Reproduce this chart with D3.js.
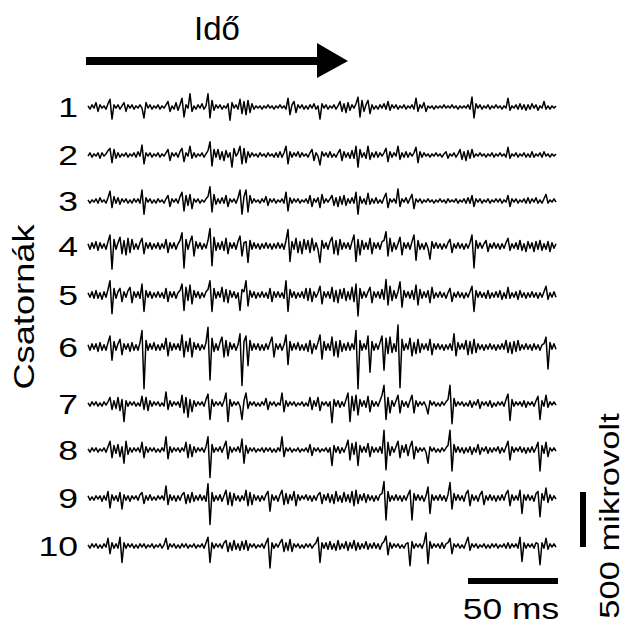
<!DOCTYPE html>
<html><head><meta charset="utf-8">
<script src="https://cdn.jsdelivr.net/npm/d3@7"></script>
<style>html,body{margin:0;padding:0;background:#fff;}svg{display:block;}</style>
</head><body>
<svg id="chart" width="625" height="624"></svg>
<script>
// ---- DATA (values in units of 10 µV, one sample every 50/45 ms) ----
const channelLabels = ["1","2","3","4","5","6","7","8","9","10"];
const timeLabel = "Idő";
const channelAxisLabel = "Csatornák";
const timeScaleLabel = "50 ms";
const voltScaleLabel = "500 mikrovolt";
const timeScaleMs = 50;
const voltScaleUnits = 50; // 500 µV
const sampleMs = 50 / 45;

const ch1 = [1,-2,2,-1,4,-4,2,-1,1,-2, 3,7,-11,2,-1,2,-2,1,4,-4, 2,-1,2,-2,1,-1,2,-1,-10,4, -1,2,-2,1,-1,2,-2,1,-1,2, 5,-4,1,-2,4,-3,2,8,-9,2, -1,12,-4,1,-2,2,-1,3,-2,1, 12,-10,6,-3,2,-1,2,-2,1,-1, 3,-12,4,-1,2,-2,7,-6,5,-7, 6,-5,3,-2,1,-1,1,-2,1,-1, 2,-1,1,-2,1,-1,2,-1,1,-2, 8,-7,2,5,-5,2,-1,2,-2,1, -2,2,-1,3,-2,1,-11,3,-1,2, -2,1,-1,2,-2,1,5,-4,3,-5, 4,-3,2,-1,3,9,-9,6,-4,2, 6,-6,2,-2,1,-2,2,-1,3,-2, 5,-3,2,-1,2,-2,1,-1,2,-2, 1,-1,2,-2,8,-4,2,-1,4,-4, 1,-1,1,-2,1,-1,1,-1,2,-1, 1,-1,2,-1,1,-2,1,-1,1,-1, 2,-2,9,-10,3,-1,2,-2,1,-1, 2,-2,1,-1,2,-1,1,-2,1,-1, 8,-3,1,-1,2,-2,3,-2,2,-3, 2,-2,3,-1,2,-3,1,-1,5,-2, 1,-2,1,-1,1];
const ch2 = [-1,2,-2,1,-1,2,-3,2,-1,1, 4,6,-7,5,-3,2,-2,1,-1,2, -2,1,-1,2,-2,3,-1,9,-8,2, -1,2,-2,1,-1,2,-2,1,-1,2, 5,-5,2,-1,2,-2,3,6,-6,2, -1,8,-3,2,-2,1,-1,2,-2,1, 4,12,-10,5,-2,5,-4,3,-5,4, -2,2,-11,6,-1,2,8,-8,6,-7, 3,-2,2,-1,1,-2,2,-1,1,-2, 2,-1,1,-2,2,-2,3,-2,2,8, -8,3,-2,2,-1,3,-2,2,-1,1, -2,2,5,-5,2,-1,-9,3,-1,2, -2,3,-2,1,-2,2,5,-5,3,-2, 2,-3,4,-3,8,-11,5,-2,2,-3, 8,-4,2,-2,3,-2,2,-1,2,6, -6,3,-2,2,-1,8,-4,2,-2,3, -2,2,-1,2,7,-7,3,-2,2,-1, 1,-2,1,-1,2,-1,1,-2,1,3, -3,1,-1,2,-2,1,5,-4,3,-5, 4,-3,5,-2,1,-1,2,-1,1,-2, 1,-1,2,-2,1,-1,2,-1,1,-2, 7,-3,1,-1,2,-2,1,-1,2,-2, 1,-2,3,-2,1,-1,2,-2,3,-1, 1,-2,1,-1,1];
const ch3 = [1,-2,1,-1,2,-2,3,-1,1,-2, 3,9,-6,4,-2,3,-3,2,-1,2, -2,1,-2,2,-1,2,-2,10,-12,3, -1,2,-2,1,-2,2,-1,1,-2,2, 5,-5,2,-1,2,-2,4,8,-9,5, -4,6,-7,2,-1,2,-2,1,-1,2, 4,13,-10,6,-3,2,-2,3,-2,5, -5,2,-1,2,-2,3,10,-12,4,10, -10,5,-2,2,-1,1,-2,2,-1,4, -4,2,-1,2,-2,1,-1,2,-2,8, -9,3,-2,2,-1,2,-2,1,-1,2, -2,5,-5,2,-1,3,-6,6,-2,2, -1,2,5,-4,3,-5,4,-3,5,-4, 2,-2,3,-2,8,-12,4,-2,2,-3, 7,-3,2,-2,3,-2,1,-2,3,7, -6,2,-1,2,-2,11,-5,2,-1,3, -2,2,6,-7,2,-1,2,-2,1,-1, 2,-1,1,-2,1,-1,2,-1,1,-2, 2,-1,1,-1,2,-2,1,-1,2,-2, 3,-2,5,-5,2,-1,2,-2,1,-1, 2,-2,1,-1,2,-1,2,-2,1,-1, 5,-5,2,-1,2,-2,1,-1,2,-2, 3,-2,2,-1,3,-2,1,-2,2,6, -2,1,-1,2,-1];
const ch4 = [2,-3,3,-2,4,-4,3,-2,2,-3, 4,10,-21,6,-3,3,8,-7,5,-8, 7,-6,6,-3,2,-3,3,7,-7,3, -2,3,-3,2,-2,3,-3,2,-2,6, -6,3,-2,3,-3,2,5,12,-20,6, -3,4,9,-9,4,-2,3,-3,2,-2, 5,16,-18,8,-4,3,-3,4,-4,7, -7,3,-2,3,-3,4,9,-9,3,4, -15,5,-3,3,-2,2,-3,2,-2,3, -2,2,-3,2,-2,3,-2,2,-3,5, 15,-14,4,-3,7,-6,4,-7,6,-3, 5,-6,7,-4,3,-3,-15,5,-2,3, -3,4,8,-7,5,-8,6,-3,3,-2, 3,-3,4,10,-14,6,-8,5,-3,3, -3,7,-7,3,-2,3,-3,4,5,13, -9,7,-5,3,-3,2,8,-8,3,-2, 3,-3,4,10,-13,5,-3,2,-3,3, -2,-12,4,-2,3,-2,2,-3,2,-2, 3,6,-6,2,-2,3,-2,2,-3,2, -2,3,10,-20,5,-2,3,-2,2,5, -5,2,-2,3,-2,2,-3,2,-2,3, 7,-4,2,-2,3,-3,5,-4,2,-5, 4,-2,3,-5,4,-3,5,-4,2,-3, 4,-5,3,-2,2];
const ch5 = [2,-2,3,-3,4,-3,2,-4,3,-2, 5,13,-17,6,-3,3,6,-6,3,-2, 4,7,-7,3,-2,3,-3,10,-15,4, -2,3,-3,2,-2,3,-2,2,-3,6, -6,3,-2,3,-3,2,4,10,-14,7, -5,9,-8,4,-2,3,-3,2,-2,3, 5,13,-15,6,-3,3,-2,7,-6,5, -7,4,-2,3,-3,2,-14,5,3,13, -10,4,-2,3,-3,2,-2,3,-2,2, -3,6,-6,3,-2,3,-2,2,-3,13, -15,5,-2,3,-3,2,-2,3,-3,6, -5,6,-6,3,-2,2,8,-8,3,-2, 3,-3,7,-6,4,-7,5,-3,6,-5, 3,-4,7,-6,10,-19,6,-3,3,-2, 3,7,-7,3,-2,3,-3,5,-4,14, -9,8,-5,4,-3,3,12,-11,4,-2, 3,-3,4,-4,9,-9,5,-3,3,-2, 4,-7,7,-3,2,-2,3,-2,2,-3, 2,6,-6,2,-2,3,-2,2,-3,2, -2,3,8,-15,4,-2,3,-2,2,-3, 4,-3,2,-2,3,-2,4,-4,2,-3, 7,-3,2,-2,3,-4,4,-2,2,-3, 2,-2,3,-2,2,-3,2,-2,3,8, -4,2,-2,3,-2];
const ch6 = [2,-3,3,-2,3,-4,4,-3,2,-3, 4,10,-12,5,-3,3,7,-7,3,-2, 3,-4,4,-3,2,-3,4,15,-38,6, -3,3,-2,4,-3,2,-3,3,-2,8, -8,4,-3,3,-2,3,-3,11,-9,5, -4,8,-9,4,-2,3,-3,2,-2,4, 18,-30,8,-4,3,-3,4,9,-9,6, -8,4,-2,3,-3,2,12,-35,5,10, -17,6,-3,3,-2,3,-3,2,-3,3, -2,4,9,-9,3,-2,3,-3,2,11, -16,5,-3,3,-2,4,-3,2,-3,3, -4,6,-6,3,-2,4,11,-11,5,-3, 3,-3,9,-8,5,-9,6,-4,3,-3, 4,-3,3,-2,15,-38,6,-3,3,-2, 10,-23,5,-3,3,-2,4,10,-21,8, -6,9,-5,3,-4,20,-37,7,-3,3, -2,8,-8,4,-6,7,-5,3,-2,3, -3,7,-7,3,-2,3,-2,2,-3,2, -2,3,-3,12,-8,4,-2,3,-2,6, -7,5,-6,7,-5,3,-2,2,-3,2, -2,3,-2,2,-3,2,-2,3,-2,6, -5,4,-6,5,-4,6,-3,2,-2,3, -2,2,-3,3,-2,2,-3,2,3,9, -20,4,-2,3,-2];
const ch7 = [1,-2,2,-1,2,-2,1,-2,2,-1, 2,6,-5,3,-4,6,-6,4,-16,3, -2,2,-1,2,-2,1,-2,7,-5,6, -6,3,-2,2,-1,2,-2,1,-2,11, -5,3,-2,2,-1,2,-3,8,-8,6, -12,4,-7,3,-2,2,-1,2,-2,4, 9,-14,4,-2,2,-1,2,-2,3,10, -16,4,-2,2,-1,2,-2,-14,3,10, -4,2,-1,2,-2,1,-2,2,-1,5, -5,2,-1,2,-2,1,-1,10,-7,3, -2,2,-1,2,-2,1,-1,2,-2,1, -2,6,-5,3,-2,6,-6,2,-1,2, -2,2,-17,4,-2,3,-3,2,-2,4, 10,-16,7,-6,8,-10,4,-2,3,-3, 7,-7,3,-2,2,-2,3,8,17,-14, 6,-8,3,-2,3,8,-8,3,-2,2, -3,3,8,-8,3,-2,2,-1,2,-2, -9,3,-1,2,-2,1,-2,2,-1,2, 4,17,-18,5,-2,2,-1,2,-2,1, -2,3,-3,2,-1,4,-4,2,-1,2, -2,3,-3,1,-2,2,-1,2,-2,4, 9,-15,4,-2,2,-1,2,-2,3,-3, 2,-1,2,-2,3,7,-14,3,-2,8, -3,2,-1,2,-1];
const ch8 = [1,-2,2,-1,2,-2,1,-1,2,-2, 3,8,-7,4,-3,5,-6,3,-12,8, -4,2,-2,2,-1,2,-2,7,-7,3, -2,2,-1,2,-2,1,-2,2,-1,12, -8,3,-2,2,-1,2,-2,2,-1,7, -7,5,-6,3,-2,2,-1,2,-2,3, 12,-25,5,-2,2,-1,3,-2,3,8, -8,3,-2,2,-1,3,-2,10,-12,4, -3,2,-1,2,-2,1,-1,2,-2,2, -1,2,-2,1,-2,2,-1,12,-6,2, -1,2,-2,1,-1,2,-2,1,-1,2, -2,5,-5,2,-1,2,-2,1,-1,2, -2,2,-14,4,-2,3,-3,2,-2,3, 9,-9,6,-4,7,-14,4,-2,3,-2, 6,-6,3,-2,2,-2,3,-3,18,-18, 7,-5,3,-2,3,8,-7,4,-2,5, -5,3,8,-8,3,-2,2,-1,2,-2, -12,3,-1,2,-2,1,-2,2,-1,2, 4,18,-19,5,-2,3,-2,2,-3,2, -2,3,-4,2,-2,5,-4,2,-1,3, -3,2,-2,2,-1,3,-3,2,-2,3, 8,-9,3,-2,2,-1,3,-2,2,-3, 2,-2,3,-2,2,7,-19,4,-3,7, -6,2,-1,2,-1];
const ch9 = [2,-2,1,-2,2,-1,2,-3,2,-2, 6,-9,3,-2,2,-3,5,-10,3,-2, 2,-3,2,-1,2,-2,3,5,-5,2, -2,3,-2,1,-2,2,-1,2,-2,11, -6,3,-2,2,-3,2,-2,3,5,-5, 3,-4,5,-3,2,-2,3,-2,2,-3, 13,-24,5,-3,2,-2,3,-3,2,7, -6,5,-7,4,-2,2,-3,2,-2,7, -7,5,-6,3,-2,2,-3,2,-2,3, 6,-12,3,-2,2,-3,3,7,-6,4, -5,3,-2,6,-7,3,-2,2,-1,3, -2,2,-3,2,-2,3,5,-5,3,-2, 4,-4,3,-5,6,-3,2,-4,5,-3, 3,-4,6,-7,7,-5,3,-2,4,-4, 3,-2,2,-3,2,-2,3,4,15,-20, 6,-3,2,-2,3,-2,2,-3,2,-2, 3,7,-20,4,-2,3,-2,2,-3,2, 10,-14,3,-2,2,-2,3,-2,2,-3, 3,14,-10,4,-2,3,-2,2,-3,4, 7,-7,3,-2,2,-3,3,6,-6,2, -2,3,-2,2,-3,2,-2,3,-2,4, 7,-7,3,-2,2,-2,7,-14,3,-2, 3,-2,2,-3,4,6,-17,4,-2,9, -4,3,-2,2,-1];
const ch10 = [1,-2,2,-1,2,-2,1,-2,2,-1, 7,-7,3,-2,2,-2,8,-15,3,-2, 2,-1,2,-2,1,-2,2,-1,2,-2, 1,-1,2,-2,1,-1,2,-2,1,7, -3,2,-1,2,-2,1,-2,2,-1,2, -2,1,-1,2,-2,1,-1,2,-2,3, 8,-15,3,-2,2,-1,2,-2,3,5, -5,3,-4,5,-3,2,-4,4,-3,5, -4,2,-1,2,-2,1,-1,2,-2,3, 7,-20,3,-2,2,-1,3,6,-5,3, -4,6,-5,2,-1,2,-2,1,-2,2, -1,2,-2,1,3,8,-15,3,-2,3, -3,4,-3,2,-4,5,-3,2,-2,4, -4,3,-2,5,-4,3,-3,2,-2,4, -3,2,-2,3,-2,2,-3,2,4,9, -8,3,-2,2,-1,2,-2,1,-2,2, 3,-18,4,-2,2,-1,2,-2,3,12, -16,4,-2,2,-1,2,-2,3,-2,2, 3,7,-7,2,-1,2,-2,1,-2,3, 8,-4,2,-1,2,-2,1,-1,2,-2, 1,-2,2,-1,2,-2,1,-1,2,-2, 3,-2,2,-1,2,-2,8,-14,3,-2, 2,-1,2,-2,3,2,-17,3,-2,7, -3,2,-1,2,-1];
const traces = [ch1, ch2, ch3, ch4, ch5, ch6, ch7, ch8, ch9, ch10];

// ---- LAYOUT ----
const W = 625, H = 624;
const rowY = [107, 155, 201, 246, 295, 347, 404, 450, 498, 546];
const FONT = "'Liberation Sans', Arial, Helvetica, sans-serif";

const svg = d3.select("#chart");
svg.append("rect").attr("width", W).attr("height", H).attr("fill", "#fff");

const nSamples = d3.max(traces, t => t.length);
const tMax = (nSamples - 1) * sampleMs;
const x = d3.scaleLinear().domain([0, tMax]).range([88, 556]);
const pxPerUnit = 55 / voltScaleUnits;

traces.forEach((vals, c) => {
  const y = d3.scaleLinear().domain([-voltScaleUnits, voltScaleUnits])
    .range([rowY[c] + 55, rowY[c] - 55]);
  const line = d3.line().x((d, i) => x(i * sampleMs)).y(d => y(d));
  svg.append("path").datum(vals).attr("d", line)
    .attr("fill", "none").attr("stroke", "#000").attr("stroke-width", 1.5)
    .attr("stroke-linejoin", "round");
  svg.append("text").text(channelLabels[c])
    .attr("transform", `translate(78,${rowY[c] + 10}) scale(1.27,1)`)
    .attr("text-anchor", "end").attr("font-family", FONT)
    .attr("font-size", 28).attr("fill", "#000");
});

// time arrow
svg.append("line").attr("x1", 86).attr("x2", 320).attr("y1", 61).attr("y2", 61)
  .attr("stroke", "#000").attr("stroke-width", 8);
svg.append("path").attr("d", "M317,43 L348,61 L317,78 Z").attr("fill", "#000");
svg.append("text").text(timeLabel).attr("x", 217).attr("y", 40)
  .attr("text-anchor", "middle").attr("font-family", FONT).attr("font-size", 33);

// channel axis label
svg.append("text").text(channelAxisLabel)
  .attr("transform", "translate(34,307) rotate(-90) scale(1.25,1)")
  .attr("text-anchor", "middle").attr("font-family", FONT).attr("font-size", 29);

// time scale bar
const x1 = x.range()[1] + 2;
const x0 = x1 - (x(timeScaleMs) - x(0));
svg.append("line").attr("x1", x0).attr("x2", x1).attr("y1", 581).attr("y2", 581)
  .attr("stroke", "#000").attr("stroke-width", 6);
svg.append("text").text(timeScaleLabel)
  .attr("transform", "translate(511,619) scale(1.22,1)")
  .attr("text-anchor", "middle").attr("font-family", FONT).attr("font-size", 29);

// voltage scale bar
const vb = voltScaleUnits * pxPerUnit;
svg.append("line").attr("x1", 583).attr("x2", 583).attr("y1", 547 - vb).attr("y2", 547)
  .attr("stroke", "#000").attr("stroke-width", 6);
svg.append("text").text(voltScaleLabel)
  .attr("transform", "translate(619,516) rotate(-90) scale(1.28,1)")
  .attr("text-anchor", "middle").attr("font-family", FONT).attr("font-size", 27);
</script>
</body></html>
